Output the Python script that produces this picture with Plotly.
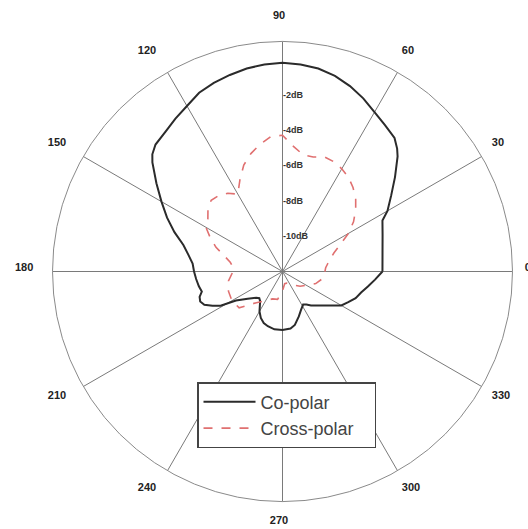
import plotly.graph_objects as go

# Measured radiation pattern (angle in degrees, gain in dB)
co_theta = [0, 10, 20, 27, 30, 35, 40, 45, 47, 50, 55, 60, 65, 70, 75, 80, 85, 90,
            95, 100, 105, 110, 115, 120, 125, 130, 135, 138, 140, 145, 150, 155, 160,
            165, 170, 175, 180, 185, 190, 194, 197, 200, 203, 206, 209, 212, 218, 225,
            229, 233, 240, 245, 250, 255, 262, 270, 278, 283, 290, 296, 302, 306, 310,
            315, 320, 325, 330, 335, 340, 345, 350, 355]
co_gain = [-6.35, -6.26, -5.98, -5.66, -5.15, -4.5, -3.7, -2.8, -2.5, -2.15, -1.9, -1.6,
           -1.2, -0.85, -0.55, -0.35, -0.25, -0.2, -0.25, -0.35, -0.5, -0.65, -0.85, -1.2,
           -1.45, -1.7, -1.85, -2.1, -2.4, -3.3, -4.1, -4.8, -5.5, -6.2, -6.6, -6.9, -7.0,
           -7.1, -7.2, -7.3, -7.1, -7.05, -7.2, -7.6, -8.0, -8.9, -9.5, -9.9, -10.0, -9.9,
           -9.4, -9.1, -8.9, -8.8, -8.7, -8.7, -8.75, -8.9, -9.3, -9.6, -9.8, -9.7, -9.49,
           -9.28, -9.0, -8.65, -8.16, -7.9, -7.6, -7.4, -7.1, -6.75]

cx_theta = [0, 5, 10, 15, 20, 25, 30, 35, 40, 45, 50, 55, 60, 65, 70, 75, 80, 85, 90,
            95, 100, 105, 110, 115, 120, 125, 130, 135, 140, 145, 150, 155, 160, 165,
            170, 175, 180, 190, 200, 210, 220, 230, 240, 250, 260, 270, 280, 290, 300,
            310, 320, 330, 340, 350, 355]
cx_gain = [-9.6, -9.55, -9.4, -9.2, -8.9, -8.4, -7.7, -7.1, -6.6, -6.15, -5.8, -5.5, -5.3,
           -5.15, -5.1, -5.3, -5.3, -4.9, -4.3, -4.35, -4.7, -5.1, -5.6, -6.3, -6.95, -6.6,
           -6.4, -6.3, -6.5, -6.85, -7.0, -7.5, -8.0, -8.6, -9.0, -9.2, -9.2, -8.9, -8.75,
           -8.7, -8.8, -9.7, -10.1, -10.35, -10.4, -10.9, -11.3, -11.3, -11.2, -11.0, -10.7,
           -10.45, -10.0, -9.7, -9.6]

angle_ticks = list(range(0, 360, 30))
radial_ticks = [-10, -8, -6, -4, -2]
radial_labels = ["-10dB", "-8dB", "-6dB", "-4dB", "-2dB"]
series_names = ["Co-polar", "Cross-polar"]

W, H = 528, 529
NBSP = "\u00a0"


def closed(a):
    return list(a) + [a[0]]


fig = go.Figure()
fig.add_trace(go.Scatterpolar(
    theta=closed(co_theta), r=closed(co_gain), mode="lines", name=series_names[0],
    line=dict(color="#2b2b2b", width=2),
))
fig.add_trace(go.Scatterpolar(
    theta=closed(cx_theta), r=closed(cx_gain), mode="lines",
    name=series_names[1] + NBSP * 3,  # a little room before the legend border
    line=dict(color="#e07070", width=1.6, dash="dash"),
))
# placeholder trace so the label-only polar frame is rendered
fig.add_trace(go.Scatterpolar(
    theta=[0], r=[0], subplot="polar2", mode="markers",
    marker=dict(opacity=0), showlegend=False, hoverinfo="skip",
))

fig.update_layout(
    width=W, height=H,
    margin=dict(l=0, r=0, t=0, b=0),
    paper_bgcolor="white",
    font=dict(family="Liberation Sans, Arial, sans-serif", color="#222"),
    polar=dict(
        domain=dict(x=[52.5 / W, 512.5 / W], y=[1 - 501.5 / H, 1 - 41.5 / H]),
        bgcolor="white",
        angularaxis=dict(
            rotation=0, direction="counterclockwise",
            tickmode="array", tickvals=angle_ticks,
            showgrid=True, gridcolor="#7a7a7a", gridwidth=1,
            showline=True, linecolor="#8a8a8a", linewidth=1,
            ticks="", showticklabels=False,
        ),
        radialaxis=dict(
            range=[-12, 1], angle=90, tickangle=90,
            tickmode="array", tickvals=radial_ticks, ticktext=radial_labels,
            showgrid=False, showline=False, ticks="",
            tickfont=dict(size=9, color="#333", weight="bold"),
        ),
    ),
    # frame that only carries the angle labels around the dial
    polar2=dict(
        domain=dict(x=[49 / W, 509 / W], y=[1 - 497 / H, 1 - 37 / H]),
        bgcolor="rgba(0,0,0,0)",
        angularaxis=dict(
            rotation=0, direction="counterclockwise",
            tickmode="array", tickvals=angle_ticks,
            ticktext=[str(a) for a in angle_ticks],
            showgrid=False, showline=False,
            ticks="outside", ticklen=13, tickcolor="rgba(0,0,0,0)",
            tickfont=dict(size=11, color="#222", weight="bold"),
        ),
        radialaxis=dict(range=[-12, 1], visible=False),
    ),
    showlegend=True,
    legend=dict(
        x=197 / W, y=1 - 382 / H, xanchor="left", yanchor="top",
        bgcolor="white", bordercolor="#444", borderwidth=1.5,
        font=dict(size=18, color="#444"),
        itemwidth=52,
    ),
)

fig.write_html("out.html")
